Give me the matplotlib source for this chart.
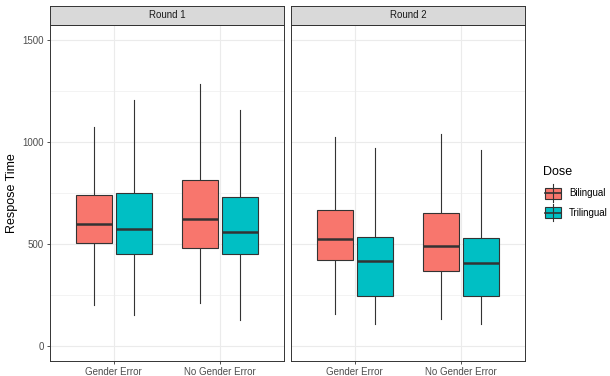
import matplotlib.pyplot as plt
from matplotlib.patches import Rectangle
from matplotlib.lines import Line2D

plt.rcParams['font.family'] = ['Liberation Sans', 'DejaVu Sans']

rounds = ['Round 1', 'Round 2']
conditions = ['Gender Error', 'No Gender Error']
doses = ['Bilingual', 'Trilingual']
colors = {'Bilingual': '#F8766D', 'Trilingual': '#00BFC4'}

# box stats per round -> condition -> dose: (low whisker, q1, median, q3, high whisker)
r1_bilingual = [(201, 505, 598, 738, 1073), (209, 482, 624, 815, 1284)]
r1_trilingual = [(149, 448, 572, 751, 1206), (127, 448, 560, 732, 1157)]
r2_bilingual = [(158, 423, 523, 668, 1024), (129, 369, 490, 650, 1041)]
r2_trilingual = [(108, 242, 418, 536, 972), (108, 242, 405, 531, 961)]

data = {
    'Round 1': {'Bilingual': r1_bilingual, 'Trilingual': r1_trilingual},
    'Round 2': {'Bilingual': r2_bilingual, 'Trilingual': r2_trilingual},
}

fig = plt.figure(figsize=(6.1, 3.76), dpi=100)
W, H = 610, 376
panel_x = [50, 291]
panel_w = 234
top, bottom = 25, 361
strip_h = 19
edge = '#333333'

for i, rnd in enumerate(rounds):
    ax = fig.add_axes([panel_x[i] / W, 1 - bottom / H, panel_w / W, (bottom - top) / H])
    ax.set_xlim(0.4, 2.6)
    ax.set_ylim(-75, 1575)
    ax.set_yticks([0, 500, 1000, 1500])
    ax.set_yticks([250, 750, 1250], minor=True)
    ax.set_xticks([1, 2])
    ax.set_xticklabels(conditions)
    ax.grid(True, which='major', color='#EBEBEB', linewidth=0.8)
    ax.grid(True, which='minor', axis='y', color='#EBEBEB', linewidth=0.4)
    ax.set_axisbelow(True)
    ax.tick_params(axis='both', which='major', labelsize=7, colors='#333333',
                   length=2.5, width=0.6, pad=2)
    ax.tick_params(axis='both', labelcolor='#4D4D4D')
    ax.tick_params(axis='y', which='minor', length=0)
    if i == 1:
        ax.tick_params(axis='y', labelleft=False, length=0)
    for s in ax.spines.values():
        s.set_color('#333333')
        s.set_linewidth(0.7)

    for j, dose in enumerate(doses):
        offset = -0.1875 if j == 0 else 0.1875
        stats = []
        for k, cond in enumerate(conditions):
            lo, q1, med, q3, hi = data[rnd][dose][k]
            stats.append({'whislo': lo, 'q1': q1, 'med': med, 'q3': q3,
                          'whishi': hi, 'fliers': [], 'label': cond})
        bp = ax.bxp(stats, positions=[1 + offset, 2 + offset], widths=0.3375,
                    patch_artist=True, showcaps=False, showfliers=False,
                    manage_ticks=False,
                    boxprops=dict(facecolor=colors[dose], edgecolor=edge, linewidth=0.8),
                    whiskerprops=dict(color=edge, linewidth=0.8),
                    medianprops=dict(color=edge, linewidth=1.8))
        for b in bp['boxes']:
            b.set_zorder(3)
        for m in bp['medians']:
            m.set_zorder(4)

    if i == 0:
        ax.set_ylabel('Respose Time', fontsize=9, labelpad=3)

    # facet strip
    sax = fig.add_axes([panel_x[i] / W, 1 - top / H, panel_w / W, strip_h / H])
    sax.set_xticks([])
    sax.set_yticks([])
    sax.set_facecolor('#D9D9D9')
    for s in sax.spines.values():
        s.set_color('#333333')
        s.set_linewidth(0.7)
    sax.text(0.5, 0.5, rnd, ha='center', va='center', fontsize=7, color='#1A1A1A',
             transform=sax.transAxes)

# legend
fig.text(543 / W, 1 - 172 / H, 'Dose', fontsize=9, ha='left', va='center', color='black')
for j, dose in enumerate(doses):
    yc = [193, 212.5][j]
    fig.add_artist(Line2D([553 / W, 553 / W], [1 - (yc - 9) / H, 1 - (yc + 9) / H],
                          color=edge, linewidth=0.8))
    fig.add_artist(Rectangle((545 / W, 1 - (yc + 5.5) / H), 16 / W, 11 / H,
                             facecolor=colors[dose], edgecolor=edge, linewidth=0.8))
    fig.add_artist(Line2D([545 / W, 561 / W], [1 - yc / H, 1 - yc / H],
                          color=edge, linewidth=1.2))
    fig.text(569 / W, 1 - yc / H, dose, fontsize=7, ha='left', va='center', color='black')

fig.savefig('out.png', dpi=100)
